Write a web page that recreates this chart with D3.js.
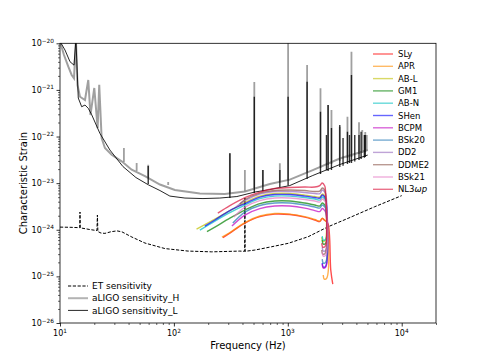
<!DOCTYPE html>
<html><head><meta charset="utf-8">
<script src="https://cdn.jsdelivr.net/npm/d3@7"></script>
<style>body{margin:0;background:#fff}svg{display:block}text{font-family:"DejaVu Sans",sans-serif;fill:#000}</style>
</head><body><svg id="c" width="485" height="363"></svg>
<script>
// ---------- data (frequency Hz, characteristic strain) ----------
const eosNames  = ["SLy","APR","AB-L","GM1","AB-N","SHen","BCPM","BSk20","DD2","DDME2","BSk21","NL3ωp"];
const eosColors = ["#ff0000","#ff8c00","#bfbf00","#008000","#00bfbf","#0000ff","#bf00bf","#1f77b4","#9467bd","#8c564b","#e377c2","#dc143c"];

const SLy   = [[269,6.80e-25],[310,8.50e-25],[420,1.39e-24],[568,1.92e-24],[769,2.17e-24],[1041,2.12e-24],[1409,1.87e-24],[1726,1.62e-24],[1909,1.50e-24],[2007,1.74e-24],[2111,1.58e-24],[2244,1.39e-24],[2383,1.37e-25],[2482,6.84e-26]];
const APR   = [[264,6.97e-25],[310,8.71e-25],[420,1.43e-24],[568,1.97e-24],[769,2.23e-24],[1041,2.17e-24],[1409,1.92e-24],[1726,1.66e-24],[1909,1.54e-24],[2007,1.78e-24],[2111,1.62e-24],[2198,1.46e-24],[2198,9.19e-26],[2090,8.75e-26],[2048,1.07e-25]];
const ABL   = [[158,1.035e-24],[229,1.70e-24],[310,2.58e-24],[420,3.84e-24],[568,5.28e-24],[769,5.98e-24],[1041,5.98e-24],[1409,5.55e-24],[1726,5.16e-24],[1909,5.03e-24],[2007,5.83e-24],[2111,5.28e-24],[2132,4.79e-24],[2132,6.01e-25],[2028,5.72e-25],[1987,6.97e-25]];
const GM1   = [[195,9.15e-25],[229,1.14e-24],[310,1.78e-24],[420,2.65e-24],[568,3.65e-24],[769,4.13e-24],[1041,4.13e-24],[1409,3.74e-24],[1726,3.39e-24],[1909,3.23e-24],[2007,3.74e-24],[2111,3.39e-24],[2154,3.07e-24],[2154,5.18e-25],[2048,4.93e-25],[2007,6.01e-25]];
const ABN   = [[169,9.85e-25],[229,1.54e-24],[310,2.34e-24],[420,3.39e-24],[568,4.67e-24],[769,5.28e-24],[1041,5.28e-24],[1409,4.91e-24],[1726,4.56e-24],[1909,4.34e-24],[2007,5.03e-24],[2111,4.56e-24],[2154,4.13e-24],[2154,6.32e-25],[2048,6.01e-25],[2007,7.32e-25]];
const SHen  = [[187,1.20e-24],[229,1.62e-24],[310,2.58e-24],[420,3.65e-24],[568,5.03e-24],[769,5.69e-24],[1041,5.69e-24],[1409,5.28e-24],[1726,4.91e-24],[1909,4.79e-24],[2007,5.55e-24],[2111,5.03e-24],[2154,4.56e-24],[2154,1.66e-25],[2048,1.58e-25],[2007,1.93e-25]];
const BCPM  = [[323,1.20e-24],[420,2.07e-24],[568,2.85e-24],[769,3.23e-24],[1041,3.23e-24],[1409,2.92e-24],[1726,2.58e-24],[1909,2.46e-24],[2007,2.85e-24],[2111,2.58e-24],[2154,2.34e-24],[2154,1.58e-25],[2048,1.51e-25],[2007,1.84e-25]];
const BSk20 = [[329,1.39e-24],[420,2.40e-24],[568,3.31e-24],[769,3.74e-24],[1041,3.74e-24],[1409,3.39e-24],[1726,3.07e-24],[1909,2.92e-24],[2007,3.39e-24],[2111,3.07e-24],[2154,2.78e-24],[2154,2.03e-25],[2048,1.93e-25],[2007,2.35e-25]];
const DD2   = [[350,3.07e-24],[420,4.23e-24],[568,5.83e-24],[769,6.60e-24],[1041,6.60e-24],[1409,6.28e-24],[1726,5.98e-24],[1909,5.98e-24],[2007,7.11e-24],[2111,6.44e-24],[2154,5.83e-24],[2154,3.67e-25],[2048,3.49e-25],[2007,4.25e-25]];
const DDME2 = [[379,3.56e-24],[420,4.45e-24],[568,6.13e-24],[769,6.94e-24],[1041,7.11e-24],[1409,6.94e-24],[1726,6.60e-24],[1909,6.77e-24],[2007,7.85e-24],[2111,7.11e-24],[2132,6.44e-24],[2132,3.16e-25],[2028,3.01e-25],[1987,3.67e-25]];
const BSk21 = [[336,1.87e-24],[420,3.07e-24],[568,4.23e-24],[769,4.79e-24],[1041,4.79e-24],[1409,4.45e-24],[1726,4.13e-24],[1909,3.93e-24],[2007,4.56e-24],[2111,4.13e-24],[2154,3.74e-24],[2154,2.86e-25],[2048,2.73e-25],[2007,3.32e-25]];
const NL3wp = [[243,2.28e-24],[310,3.31e-24],[420,4.91e-24],[568,6.44e-24],[769,7.66e-24],[1041,8.04e-24],[1409,8.25e-24],[1726,8.25e-24],[1909,8.88e-24],[2007,1.005e-23],[2111,8.67e-24],[2132,7.85e-24],[2132,4.47e-25],[2028,4.25e-25],[1987,5.18e-25]];
const eosSeries = [SLy,APR,ABL,GM1,ABN,SHen,BCPM,BSk20,DD2,DDME2,BSk21,NL3wp];

const etSens = [[10,1.14e-24],[12.24,1.13e-24],[14.68,1.11e-24],[14.9,1.11e-24],[14.98,2.40e-24],[15.06,1.10e-24],[18.33,1.01e-24],[21.1,9.61e-25],[21.3,2.07e-24],[21.5,9.15e-25],[22.9,8.5e-25],[24.8,8.37e-25],[28.0,9.06e-25],[31.6,9.47e-25],[35.0,9.02e-25],[42.8,6.97e-25],[55.7,5.19e-25],[83.4,3.95e-25],[133,3.49e-25],[215,3.36e-25],[379,3.49e-25],[418,3.45e-25],[420,4.79e-24],[422,3.45e-25],[514,3.67e-25],[720,4.32e-25],[1006,5.11e-25],[1507,7.08e-25],[2258,1.16e-24],[3380,1.76e-24],[5795,3.12e-24],[10000,5.4e-24]];

const ligoH = [[10,1.1e-20],[10.84,5.61e-21],[11.83,3.15e-21],[12.66,2.09e-21],[13.27,1.77e-21],[13.8,1.2e-20],[14.24,1.27e-21],[14.98,7.15e-22],[16.57,6.07e-22],[17.71,1.63e-21],[18.51,2.89e-22],[20.0,1.10e-21],[21.4,1.52e-22],[22.1,1.29e-21],[23.2,9.29e-23],[24.8,5.66e-23],[28.4,4.07e-23],[34.8,2.94e-23],[42.6,1.94e-23],[55.7,1.42e-23],[75.4,9.33e-24],[102,7.11e-24],[169,5.98e-24],[280,5.83e-24],[420,6.60e-24],[695,9.57e-24],[1041,1.19e-23],[1657,1.91e-23],[2858,3.37e-23],[5033,5.13e-23]];
const ligoL = [[10,1.1e-20],[11.06,7.18e-21],[12.24,4.03e-21],[13.27,3.4e-21],[13.8,1.2e-20],[14.47,6.70e-22],[15.5,4.36e-22],[16.57,4.74e-22],[17.71,4.03e-22],[18.97,2.94e-22],[22.4,1.17e-22],[27.45,5.13e-23],[35.7,2.27e-23],[46.4,1.32e-23],[59.5,9.24e-24],[75.4,6.94e-24],[92.2,5.28e-24],[125,4.79e-24],[180,4.67e-24],[253,4.79e-24],[357,5.16e-24],[513,6.44e-24],[695,7.29e-24],[1041,8.88e-24],[1657,1.46e-23],[2858,2.51e-23],[5033,4.01e-23]];
// narrow lines: [frequency, base strain, peak strain]
const ligoHSpikes = [[36.4,2.86e-23,5.66e-23],[47.1,1.82e-23,2.70e-23],[59.5,1.29e-23,2.48e-23],[89.1,9.1e-24,1.06e-23],[310,5.98e-24,4.36e-23],[420,6.6e-24,1.91e-23],[508,7.85e-24,1.48e-21],[604,8.67e-24,1.91e-23],[851,1.05e-23,2.66e-23],[1006,1.17e-23,1.2e-20],[1477,1.69e-23,3.42e-21],[1936,2.11e-23,1.08e-21],[2258,2.44e-23,4.74e-22],[2417,2.59e-23,3.70e-22],[2858,2.98e-23,1.62e-22],[3340,3.46e-23,2.66e-22],[3621,3.63e-23,6.6e-21],[4218,4.21e-23,2.02e-22],[4503,4.42e-23,1.38e-22],[4786,4.64e-23,1.25e-22],[4932,4.89e-23,1.08e-22]];
const ligoLSpikes = [[59.5,9.57e-24,2.33e-23],[310,4.79e-24,4.36e-23],[508,6.13e-24,7.15e-22],[604,6.77e-24,1.91e-23],[851,8.3e-24,1.91e-23],[1006,8.88e-24,7.15e-22],[1477,1.22e-23,1.5e-21],[1936,1.57e-23,3.40e-22],[2185,1.9e-23,1.08e-22],[2258,1.82e-23,4.74e-22],[2417,1.91e-23,1.52e-22],[2858,2.22e-23,1.77e-22],[3055,2.35e-23,9.29e-23],[3340,2.59e-23,1.27e-22],[3480,2.7e-23,1.08e-22],[3621,2.70e-23,2.09e-21],[3870,2.9e-23,1.08e-22],[4218,3.13e-23,1.08e-22],[4400,3.3e-23,1.27e-22],[4700,3.5e-23,1.08e-22],[4786,3.63e-23,1.08e-22]];

const xTickValues = [10,100,1000,10000];
const xTickExps   = ["1","2","3","4"];
const yTickValues = [1e-20,1e-21,1e-22,1e-23,1e-24,1e-25,1e-26];
const yTickExps   = ["−20","−21","−22","−23","−24","−25","−26"];
const lowLegend   = ["ET sensitivity","aLIGO sensitivity_H","aLIGO sensitivity_L"];

// ---------- drawing ----------
const svg = d3.select("#c");
const L=60, R=436, T=43.3, B=323;
const x = d3.scaleLog().domain([10,2e4]).range([L,R]);
const y = d3.scaleLog().domain([1e-26,1e-20]).range([B,T]);

svg.append("clipPath").attr("id","clip").append("rect")
  .attr("x",L).attr("y",T).attr("width",R-L).attr("height",B-T);
const plot = svg.append("g").attr("clip-path","url(#clip)");
const line = d3.line().x(d=>x(d[0])).y(d=>y(d[1]));
const smooth = d3.line().x(d=>x(d[0])).y(d=>y(d[1])).curve(d3.curveCatmullRom.alpha(0.5));

// aLIGO H
plot.append("path").datum(ligoH).attr("d",line).attr("fill","none")
  .attr("stroke","#808080").attr("stroke-width",2).attr("stroke-opacity",0.75);
plot.selectAll(".hs").data(ligoHSpikes).enter().append("line")
  .attr("x1",d=>x(d[0])).attr("x2",d=>x(d[0])).attr("y1",d=>y(d[1])).attr("y2",d=>y(d[2]))
  .attr("stroke","#808080").attr("stroke-width",1.8).attr("stroke-opacity",0.75);
// aLIGO L
plot.append("path").datum(ligoL).attr("d",line).attr("fill","none")
  .attr("stroke","#000").attr("stroke-width",1).attr("stroke-opacity",0.85);
plot.selectAll(".ls").data(ligoLSpikes).enter().append("line")
  .attr("x1",d=>x(d[0])).attr("x2",d=>x(d[0])).attr("y1",d=>y(d[1])).attr("y2",d=>y(d[2]))
  .attr("stroke","#000").attr("stroke-width",1.4).attr("stroke-opacity",0.8);
// ET
plot.append("path").datum(etSens).attr("d",line).attr("fill","none")
  .attr("stroke","#000").attr("stroke-width",1).attr("stroke-dasharray","3.2,1.6");
// EOS
eosSeries.forEach((s,i)=>{
  plot.append("path").datum(s).attr("d",smooth).attr("fill","none")
    .attr("stroke",eosColors[i]).attr("stroke-width",1.4).attr("stroke-opacity",0.7)
    .attr("stroke-linejoin","round");
});

// axes
const xMinor=[], yMinor=[];
for (let e=1;e<=4;e++) for (let k=2;k<=9;k++){ const v=k*Math.pow(10,e); if (v<=2e4) xMinor.push(v); }
for (let e=-26;e<-20;e++) for (let k=2;k<=9;k++) yMinor.push(k*Math.pow(10,e));

const gx = svg.append("g").attr("transform",`translate(0,${B})`);
gx.call(d3.axisBottom(x).tickValues(xMinor).tickSize(2).tickFormat(""));
gx.selectAll(".tick line").attr("stroke-width",0.6);
const gx2 = svg.append("g").attr("transform",`translate(0,${B})`);
gx2.call(d3.axisBottom(x).tickValues(xTickValues).tickSize(3.5).tickFormat(""));
[gx,gx2].forEach(g=>g.select(".domain").remove());
gx2.selectAll(".tick line").attr("stroke-width",0.8);

const gy = svg.append("g").attr("transform",`translate(${L},0)`);
gy.call(d3.axisLeft(y).tickValues(yMinor).tickSize(2).tickFormat(""));
gy.selectAll(".tick line").attr("stroke-width",0.6);
const gy2 = svg.append("g").attr("transform",`translate(${L},0)`);
gy2.call(d3.axisLeft(y).tickValues(yTickValues).tickSize(3.5).tickFormat(""));
[gy,gy2].forEach(g=>g.select(".domain").remove());
gy2.selectAll(".tick line").attr("stroke-width",0.8);

svg.append("rect").attr("x",L).attr("y",T).attr("width",R-L).attr("height",B-T)
  .attr("fill","none").attr("stroke","#000").attr("stroke-width",0.8);

// tick labels
xTickValues.forEach((v,i)=>{
  const t = svg.append("text").attr("x",x(v)).attr("y",B+13).attr("text-anchor","middle").attr("font-size",8);
  t.append("tspan").text("10");
  t.append("tspan").attr("dy",-3.5).attr("font-size",5.8).text(xTickExps[i]);
});
yTickValues.forEach((v,i)=>{
  const t = svg.append("text").attr("x",L-6).attr("y",y(v)+3).attr("text-anchor","end").attr("font-size",8);
  t.append("tspan").text("10");
  t.append("tspan").attr("dy",-3.5).attr("font-size",5.8).text(yTickExps[i]);
});

svg.append("text").attr("x",(L+R)/2).attr("y",349).attr("text-anchor","middle").attr("font-size",10).text("Frequency (Hz)");
svg.append("text").attr("transform",`translate(26.5,${(T+B)/2}) rotate(-90)`).attr("text-anchor","middle").attr("font-size",10).text("Characteristic Strain");

// legend right
eosNames.forEach((n,i)=>{
  const yy = 54 + i*12.3;
  svg.append("line").attr("x1",373).attr("x2",393).attr("y1",yy).attr("y2",yy)
    .attr("stroke",eosColors[i]).attr("stroke-width",1.4).attr("stroke-opacity",0.6);
  const t = svg.append("text").attr("x",398).attr("y",yy+3).attr("font-size",8.5);
  if (n==="NL3ωp"){ t.append("tspan").text("NL3"); t.append("tspan").attr("font-style","italic").text("ωp"); }
  else t.text(n);
});
// legend bottom-left
const lowStyles = [
  {stroke:"#000",w:1,dash:"3.2,1.6",op:1},
  {stroke:"#808080",w:2,dash:null,op:0.6},
  {stroke:"#000",w:1,dash:null,op:0.85}];
lowLegend.forEach((n,i)=>{
  const yy = 286 + i*12.2, s=lowStyles[i];
  svg.append("line").attr("x1",68).attr("x2",88).attr("y1",yy).attr("y2",yy)
    .attr("stroke",s.stroke).attr("stroke-width",s.w).attr("stroke-opacity",s.op)
    .attr("stroke-dasharray",s.dash);
  svg.append("text").attr("x",92).attr("y",yy+3.2).attr("font-size",9).text(n);
});
</script></body></html>
